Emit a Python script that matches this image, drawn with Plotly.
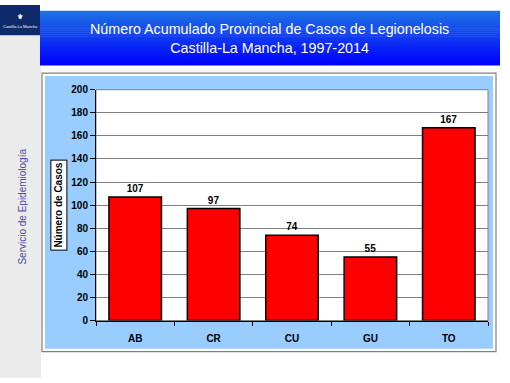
import plotly.graph_objects as go

categories = ["AB", "CR", "CU", "GU", "TO"]
casos = [107, 97, 74, 55, 167]
y_ticks = [0, 20, 40, 60, 80, 100, 120, 140, 160, 180, 200]

W, H = 510, 383
FONT = "Liberation Sans, Arial, sans-serif"

def px(x):
    return x / W

def py(y):
    return 1 - y / H

# plot area in pixels
PL, PR, PT, PB = 96, 488, 87, 324

fig = go.Figure()
fig.add_trace(go.Bar(
    x=categories, y=casos,
    marker=dict(color="#ff0000", line=dict(color="#000000", width=1.5)),
    text=[str(v) for v in casos], textposition="outside",
    textfont=dict(family=FONT, size=10, color="#000000", weight="bold"),
    cliponaxis=False, width=0.67,
))

shapes = []
def rect(x0, y0, x1, y1, fill, line=None, lw=0, layer="below"):
    shapes.append(dict(type="rect", xref="paper", yref="paper",
                       x0=px(x0), x1=px(x1), y0=py(y1), y1=py(y0),
                       fillcolor=fill, line=dict(color=line or fill, width=lw),
                       layer=layer))

# left gray strip
rect(0, 31, 41, 383, "#ebebeb")
# logo box
rect(0, 0, 40, 31, "#0e2a6a")
# banner gradient
n = 28
top_c = (0x1e, 0x72, 0xe4)
bot_c = (0x00, 0x00, 0xff)
y0b, y1b = 6, 62
for i in range(n):
    t = i / (n - 1)
    c = tuple(int(round(top_c[k] + (bot_c[k] - top_c[k]) * t)) for k in range(3))
    ya = y0b + (y1b - y0b) * i / n
    yb = y0b + (y1b - y0b) * (i + 1) / n + 0.5
    rect(40, ya, 500, min(yb, y1b), "rgb(%d,%d,%d)" % c)
# chart frame
rect(42, 70, 496, 356, "#ffffff", "#808080", 1.2)
rect(45, 73, 493, 353, "#99ccff")
# plot area
rect(PL, PT, PR, PB, "#ffffff", "#808080", 1)

annotations = [
    dict(text="Número Acumulado Provincial de Casos de Legionelosis<br>Castilla-La Mancha, 1997-2014",
         xref="paper", yref="paper", x=px(269), y=py(34), showarrow=False,
         font=dict(family=FONT, size=14.3, color="#ffffff"), align="center",
         xanchor="center", yanchor="middle"),
    dict(text="Servicio de Epidemiología", xref="paper", yref="paper",
         x=px(23), y=py(207), showarrow=False, textangle=-90,
         font=dict(family=FONT, size=10, color="#4a4aa8"),
         xanchor="center", yanchor="middle"),
    dict(text="<b>Número de Casos</b>", xref="paper", yref="paper",
         x=px(59), y=py(206), showarrow=False, textangle=-90,
         font=dict(family=FONT, size=10, color="#000000"),
         bgcolor="#ffffff", bordercolor="#000000", borderwidth=1, borderpad=2,
         xanchor="center", yanchor="middle"),
    dict(text="<b>⚜</b><br><span style='font-size:4px'>Castilla-La Mancha</span>",
         xref="paper", yref="paper", x=px(20), y=py(16), showarrow=False,
         font=dict(family=FONT, size=7, color="#ffffff"),
         xanchor="center", yanchor="middle"),
]

fig.update_layout(
    width=W, height=H, margin=dict(l=0, r=0, t=0, b=0),
    paper_bgcolor="#ffffff", plot_bgcolor="rgba(0,0,0,0)",
    showlegend=False, shapes=shapes, annotations=annotations,
    bargap=0.33,
    xaxis=dict(domain=[px(PL), px(PR)], type="category",
               showline=True, linecolor="#000000", linewidth=1,
               ticks="outside", tickson="boundaries", ticklen=4, tickcolor="#000000",
               ticklabelstandoff=8,
               tickfont=dict(family=FONT, size=10, color="#000000", weight="bold"),
               showgrid=False, fixedrange=True),
    yaxis=dict(domain=[py(PB), py(PT)], range=[0, 200], tickvals=y_ticks,
               showline=True, linecolor="#000000", linewidth=1,
               ticks="outside", ticklen=5, tickcolor="#000000",
               tickfont=dict(family=FONT, size=10, color="#000000", weight="bold"),
               showgrid=True, gridcolor="#808080", gridwidth=1,
               zeroline=False, fixedrange=True),
)

fig.write_html("out.html", config={"displayModeBar": False},
               post_script="document.body.style.margin='0';document.body.style.overflow='hidden';")
